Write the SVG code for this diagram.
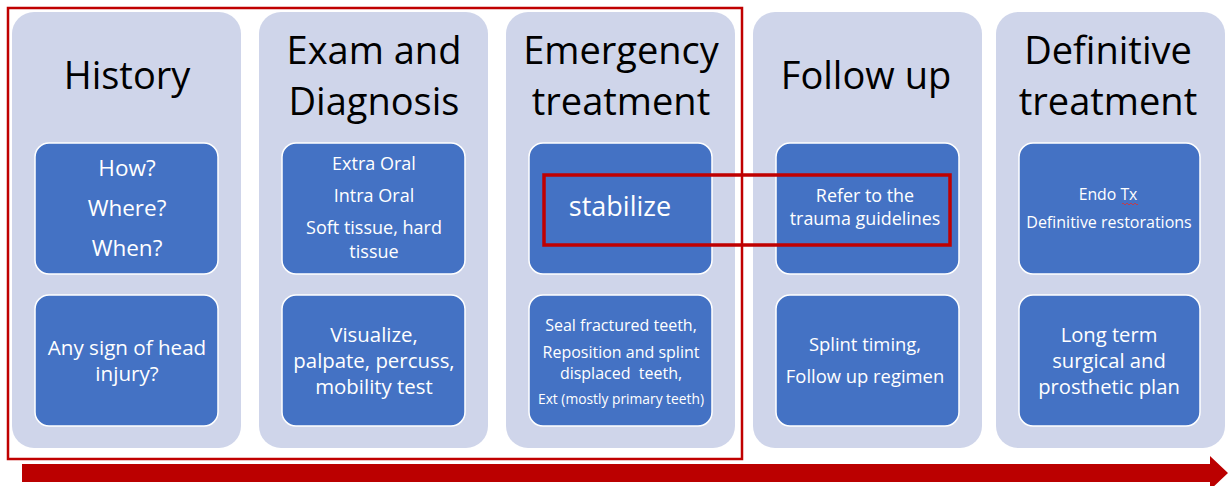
<svg xmlns="http://www.w3.org/2000/svg" width="1228" height="486" viewBox="0 0 1228 486">
<style>
.col{fill:#CFD5EA}
.box{fill:#4472C4;stroke:#FFFFFF;stroke-width:1.5}
.t{font-family:"Open Sans","Noto Sans",sans-serif;text-anchor:middle}
.title{font-size:38px;fill:#000000}
.w{fill:#FFFFFF}
.red{fill:none;stroke:#C00000}
</style>
<rect width="1228" height="486" fill="#FFFFFF"/>
<g id="history">
<rect class="col" x="12" y="12" width="229" height="436" rx="22"/>
<text class="t title" x="127" y="89">History</text>
<rect class="box" x="35" y="143" width="183" height="131" rx="14"/>
<text class="t w" font-size="22.5" x="127" y="176">How?</text>
<text class="t w" font-size="22.5" x="127" y="216">Where?</text>
<text class="t w" font-size="22.5" x="127" y="256">When?</text>
<rect class="box" x="35" y="295" width="183" height="131" rx="14"/>
<text class="t w" font-size="20.6" x="127" y="355">Any sign of head</text>
<text class="t w" font-size="20.6" x="127" y="381">injury?</text>
</g>
<g id="exam">
<rect class="col" x="259" y="12" width="229" height="436" rx="22"/>
<text class="t title" x="374" y="64">Exam and</text>
<text class="t title" x="374" y="115">Diagnosis</text>
<rect class="box" x="282" y="143" width="183" height="131" rx="14"/>
<text class="t w" font-size="18" x="374" y="170">Extra Oral</text>
<text class="t w" font-size="18" x="374" y="202">Intra Oral</text>
<text class="t w" font-size="18" x="374" y="234">Soft tissue, hard</text>
<text class="t w" font-size="18" x="374" y="258">tissue</text>
<rect class="box" x="282" y="295" width="183" height="131" rx="14"/>
<text class="t w" font-size="20.4" x="374" y="342">Visualize,</text>
<text class="t w" font-size="20.4" x="374" y="368">palpate, percuss,</text>
<text class="t w" font-size="20.4" x="374" y="394">mobility test</text>
</g>
<g id="emergency">
<rect class="col" x="506" y="12" width="229" height="436" rx="22"/>
<text class="t title" x="621" y="64">Emergency</text>
<text class="t title" x="621" y="115">treatment</text>
<rect class="box" x="529" y="143" width="183" height="131" rx="14"/>
<text class="t w" font-size="27" x="620" y="216">stabilize</text>
<rect class="box" x="529" y="295" width="183" height="131" rx="14"/>
<text class="t w" font-size="16" x="621" y="331">Seal fractured teeth,</text>
<text class="t w" font-size="16" x="621" y="358">Reposition and splint</text>
<text class="t w" font-size="16" x="621" y="379" xml:space="preserve">displaced  teeth,</text>
<text class="t w" font-size="13.8" x="621" y="404">Ext (mostly primary teeth)</text>
</g>
<g id="followup">
<rect class="col" x="753" y="12" width="229" height="436" rx="22"/>
<text class="t title" x="866" y="89">Follow up</text>
<rect class="box" x="776" y="143" width="183" height="131" rx="14"/>
<text class="t w" font-size="17.9" x="865" y="202">Refer to the</text>
<text class="t w" font-size="17.9" x="865" y="225">trauma guidelines</text>
<rect class="box" x="776" y="295" width="183" height="131" rx="14"/>
<text class="t w" font-size="18.4" x="865" y="351">Splint timing,</text>
<text class="t w" font-size="18.4" x="865" y="383">Follow up regimen</text>
</g>
<g id="definitive">
<rect class="col" x="996" y="12" width="229" height="436" rx="22"/>
<text class="t title" x="1108" y="64">Definitive</text>
<text class="t title" x="1108" y="115">treatment</text>
<rect class="box" x="1019" y="143" width="181" height="131" rx="14"/>
<text class="t w" font-size="15.8" x="1108" y="200">Endo Tx</text>
<path d="M1122,204 q1,-2 2,0 t2,0 t2,0 t2,0 t2,0 t2,0 t2,0 t2,0" fill="none" stroke="#E03030" stroke-width="0.8"/>
<text class="t w" font-size="16" x="1109" y="228">Definitive restorations</text>
<rect class="box" x="1019" y="295" width="181" height="131" rx="14"/>
<text class="t w" font-size="20.2" x="1109" y="342">Long term</text>
<text class="t w" font-size="20.2" x="1109" y="368">surgical and</text>
<text class="t w" font-size="20.2" x="1109" y="394">prosthetic plan</text>
</g>
<g id="connectors">
<rect class="red" x="8" y="8" width="734" height="451" stroke-width="2.5"/>
<rect class="red" x="544" y="175" width="406" height="70" stroke-width="3.5"/>
<polygon points="22,464 1210,464 1210,456 1228,473 1210,490 1210,482 22,482" fill="#BB0000"/>
</g>
</svg>
